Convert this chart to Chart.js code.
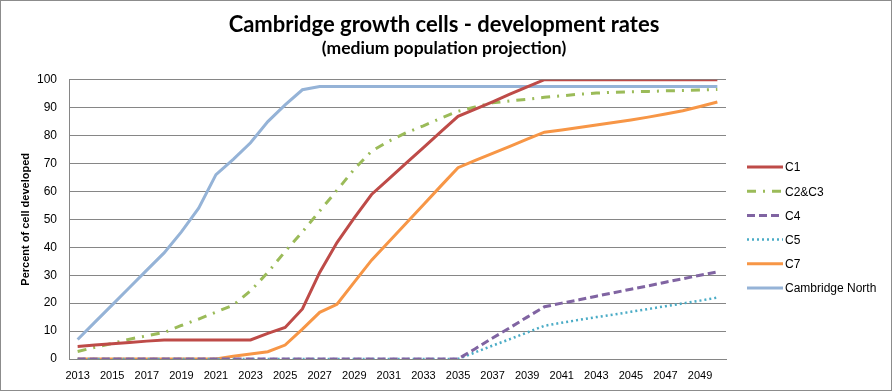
<!DOCTYPE html>
<html>
<head>
<meta charset="utf-8">
<script src="https://cdn.jsdelivr.net/npm/chart.js@4"></script>
<style>
  html, body { margin: 0; padding: 0; background: #fff; }
  #wrap { width: 892px; height: 391px; box-sizing: border-box; border: 1px solid #8c8c8c; background: #fff; }
  canvas { display: block; }
</style>
</head>
<body>
<div id="wrap"><canvas id="grafico" width="890" height="389"></canvas></div>
<script>
const anos = [];
for (let a = 2013; a <= 2050; a++) anos.push(String(a));

const c1 = [4.5, 5.0, 5.5, 5.9, 6.4, 6.8, 6.8, 6.8, 6.8, 6.8, 6.8, 9.2, 11.3, 17.9, 31, 41.7, 50.5, 58.9,
  64.5, 70.1, 75.7, 81.3, 86.9, 89.5, 92.1, 94.8, 97.4, 100, 100, 100, 100, 100, 100, 100, 100, 100, 100, 100];
const c2c3 = [2.7, 4.2, 5.6, 7.1, 8.3, 9.5, 12, 14.3, 16.8, 19.3, 24.4, 31, 38.5, 45.5, 53, 60.4, 68, 74.4,
  78, 81, 83.5, 86.2, 88.7, 90.2, 91.7, 92.4, 93, 93.7, 94.2, 94.8, 95.2, 95.5, 95.7, 95.8, 96, 96.1, 96.3, 96.5];
const c4 = [0, 0, 0, 0, 0, 0, 0, 0, 0, 0, 0, 0, 0, 0, 0, 0, 0, 0, 0, 0, 0, 0, 0,
  3.7, 7.5, 11.2, 15, 18.7, 20, 21.2, 22.5, 23.7, 25, 26.2, 27.5, 28.7, 30, 31.2];
const c5 = [0, 0, 0, 0, 0, 0, 0, 0, 0, 0, 0, 0, 0, 0, 0, 0, 0, 0, 0, 0, 0, 0, 0,
  2.4, 4.8, 7.1, 9.5, 11.9, 13, 14, 15, 15.9, 16.9, 17.9, 18.9, 19.9, 20.9, 22];
const c7 = [0, 0, 0, 0, 0, 0, 0, 0, 0, 1, 1.8, 2.6, 5, 10.7, 16.7, 19.6, 27.5, 35.4, 42, 48.6, 55.2, 61.9,
  68.5, 71.1, 73.6, 76.1, 78.7, 81.2, 82, 82.9, 83.8, 84.7, 85.6, 86.6, 87.7, 88.9, 90.4, 92];
const cambridgeNorth = [7, 13.2, 19.4, 25.6, 31.8, 38, 45.5, 54, 66, 71.5, 77.4, 85, 91, 96.4,
  97.6, 97.6, 97.6, 97.6, 97.6, 97.6, 97.6, 97.6, 97.6, 97.6, 97.6, 97.6, 97.6, 97.6, 97.6, 97.6,
  97.6, 97.6, 97.6, 97.6, 97.6, 97.6, 97.6, 97.6];

function serie(nome, valores, cor, tracejado, largura) {
  return {
    label: nome,
    data: valores,
    borderColor: cor,
    backgroundColor: cor,
    borderWidth: largura || 3,
    borderDash: tracejado || [],
    pointRadius: 0,
    tension: 0,
    fill: false
  };
}

// legenda desenhada à mão, para manter os tracejados das séries
const legendaLateral = {
  id: 'legendaLateral',
  afterDraw(chart) {
    const c = chart.ctx;
    const area = chart.chartArea;
    const x0 = area.right + 21;
    let y = 166;
    c.save();
    c.font = '12px "Liberation Sans"';
    c.textBaseline = 'middle';
    c.fillStyle = '#000';
    chart.data.datasets.forEach(ds => {
      c.beginPath();
      c.strokeStyle = ds.borderColor;
      c.lineWidth = ds.borderWidth;
      c.setLineDash(ds.borderDash);
      c.moveTo(x0, y);
      c.lineTo(x0 + 36, y);
      c.stroke();
      c.fillText(ds.label, x0 + 38, y + 1);
      y += 24.2;
    });
    c.restore();
  }
};

const ctx = document.getElementById('grafico').getContext('2d');
new Chart(ctx, {
  type: 'line',
  data: {
    labels: anos,
    datasets: [
      serie('C1', c1, '#BE4B48'),
      serie('C2&C3', c2c3, '#9BBB59', [9, 7, 2, 7]),
      serie('C4', c4, '#8064A2', [8, 4]),
      serie('C5', c5, '#4BACC6', [2, 3], 2.5),
      serie('C7', c7, '#F79646'),
      serie('Cambridge North', cambridgeNorth, '#95B3D7')
    ]
  },
  plugins: [legendaLateral],
  options: {
    responsive: false,
    animation: false,
    layout: { padding: { left: 18, right: 22, top: 12, bottom: 0 } },
    scales: {
      x: {
        offset: true,
        grid: { display: false, drawTicks: false },
        border: { display: true, color: '#868686' },
        afterFit(s) { s.height = 31; },
        ticks: {
          autoSkip: false,
          maxRotation: 0,
          color: '#000',
          padding: 10,
          font: { family: 'Liberation Sans', size: 11 },
          callback: function(v, i) { return i % 2 === 0 ? this.getLabelForValue(v) : ''; }
        }
      },
      y: {
        min: 0,
        max: 100,
        grid: { color: '#868686', drawTicks: false },
        border: { display: true, color: '#868686' },
        afterFit(s) { s.width = 50; },
        ticks: {
          stepSize: 10,
          color: '#000',
          padding: 12,
          font: { family: 'Liberation Sans', size: 12 }
        },
        title: {
          display: true,
          text: 'Percent of cell developed',
          color: '#000',
          padding: { top: 0, bottom: 0 },
          font: { family: 'Liberation Sans', size: 11, weight: 'bold' }
        }
      },
      // eixo vazio só para reservar o espaço da legenda
      espaco: {
        position: 'right',
        min: 0,
        max: 1,
        grid: { display: false },
        border: { display: false },
        ticks: { display: false },
        afterFit(s) { s.width = 143; }
      }
    },
    plugins: {
      title: {
        display: true,
        text: 'Cambridge growth cells - development rates',
        color: '#000',
        padding: { top: 0, bottom: 2 },
        font: { family: 'Lato', size: 22, weight: 'bold', lineHeight: 1.1 }
      },
      subtitle: {
        display: true,
        text: '(medium population projection)',
        color: '#000',
        padding: { top: 0, bottom: 23 },
        font: { family: 'Lato', size: 17.5, weight: 'bold', lineHeight: 1.0 }
      },
      legend: { display: false },
      tooltip: { enabled: false }
    }
  }
});
</script>
</body>
</html>
